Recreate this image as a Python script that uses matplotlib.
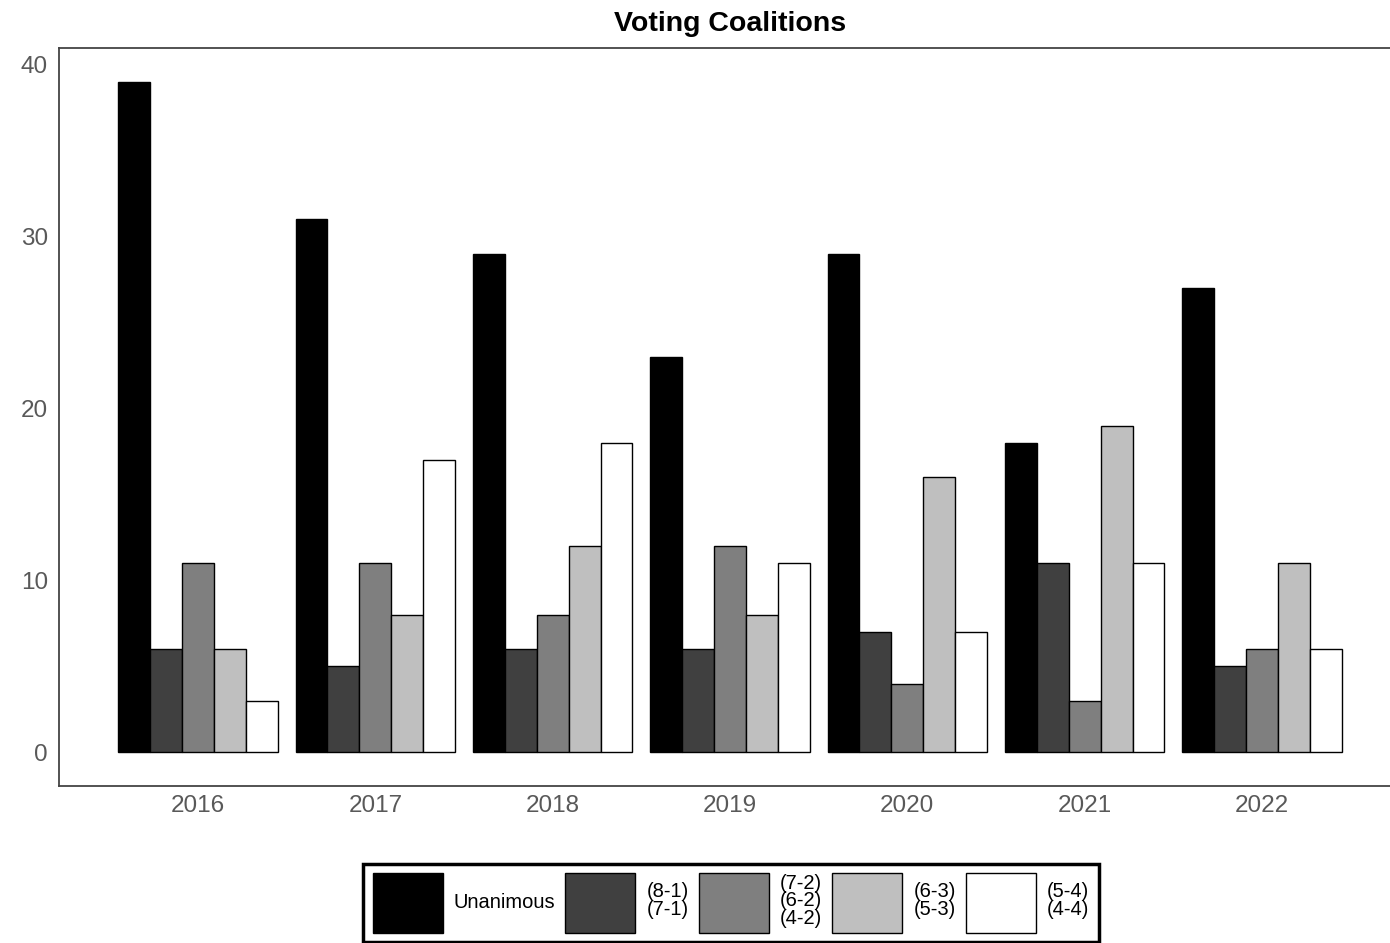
import matplotlib.pyplot as plt
import numpy as np

plt.rcParams['font.family'] = ['Liberation Sans', 'DejaVu Sans']

# data
years = ['2016', '2017', '2018', '2019', '2020', '2021', '2022']
unanimous = [39, 31, 29, 23, 29, 18, 27]
split_81 = [6, 5, 6, 6, 7, 11, 5]
split_72 = [11, 11, 8, 12, 4, 3, 6]
split_63 = [6, 8, 12, 8, 16, 19, 11]
split_54 = [3, 17, 18, 11, 7, 11, 6]

labels = ['Unanimous', '(8-1)\n(7-1)', '(7-2)\n(6-2)\n(4-2)', '(6-3)\n(5-3)', '(5-4)\n(4-4)']
colors = ['#000000', '#404040', '#7f7f7f', '#bfbfbf', '#ffffff']
series = [unanimous, split_81, split_72, split_63, split_54]

fig = plt.figure(figsize=(13.9, 9.43), dpi=100)
# panel runs a little past the right edge like in the original
ax = fig.add_axes([59 / 1390, 1 - 786 / 943, 1342 / 1390, 738 / 943])

x = np.arange(1, len(years) + 1)
w = 0.9 / len(series)
handles = []
for i, (vals, col, lab) in enumerate(zip(series, colors, labels)):
    off = (i - 2) * w
    b = ax.bar(x + off, vals, width=w, color=col, edgecolor='black', linewidth=1.0, label=lab)
    handles.append(b)

ax.set_xlim(0.216, 7.784)
ax.set_ylim(-1.95, 40.95)
ax.set_xticks(x)
ax.set_xticklabels(years)
ax.set_yticks([0, 10, 20, 30, 40])
ax.tick_params(length=0, labelsize=17.5, colors='#595959')
ax.tick_params(axis='x', pad=6.5)
ax.tick_params(axis='y', pad=8)
for s in ax.spines.values():
    s.set_color('#444444')
    s.set_linewidth(1.3)

ax.set_title('Voting Coalitions', fontsize=20.5, fontweight='bold', pad=12)

fs = 14.5
leg = fig.legend(handles=handles, labels=labels, loc='upper center', ncol=5,
                 bbox_to_anchor=(731 / 1390, 1 - 864 / 943), fontsize=fs,
                 handlelength=3.48, handleheight=4.2, handletextpad=0.55,
                 columnspacing=0.5, borderpad=0.45, labelspacing=0.2,
                 borderaxespad=0, frameon=True, fancybox=False,
                 edgecolor='black', framealpha=1)
leg.get_frame().set_linewidth(2.5)
for t in leg.get_texts():
    t.set_linespacing(0.92)

fig.savefig('out.png', dpi=100)
